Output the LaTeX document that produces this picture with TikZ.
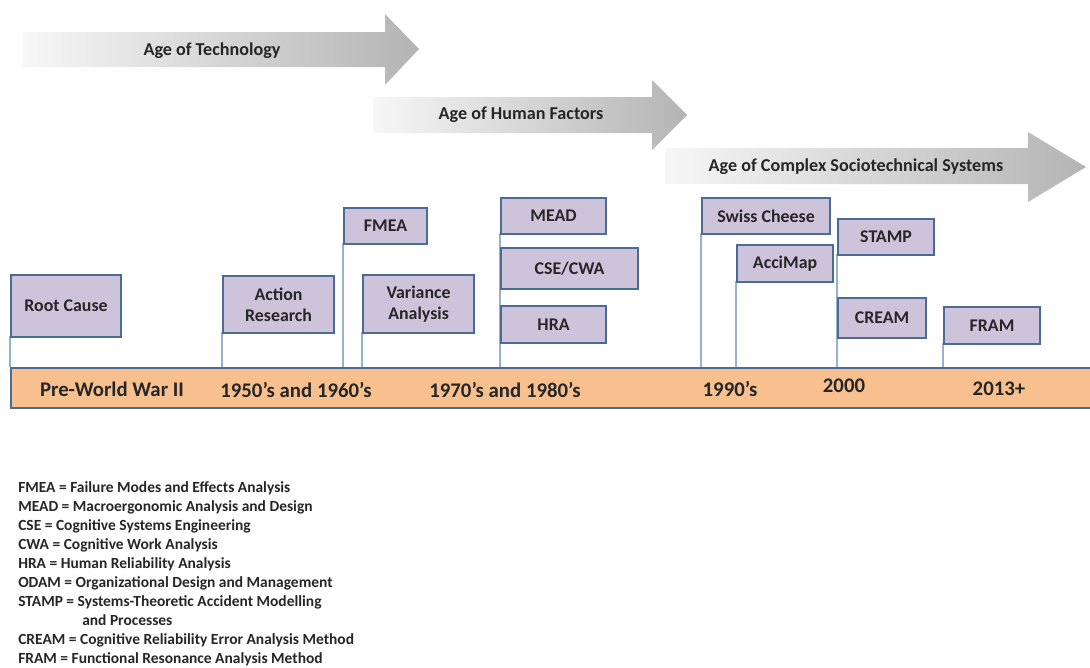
\documentclass[tikz,border=0pt]{standalone}
\usepackage{fontspec}
\setmainfont{Carlito}
\definecolor{boxfill}{HTML}{CDC3DB}
\definecolor{boxdraw}{HTML}{4A6B96}
\definecolor{linkcol}{HTML}{9AB1CE}
\definecolor{barfill}{HTML}{F8C08E}
\definecolor{txt}{HTML}{262626}
\definecolor{arrL}{HTML}{F7F7F7}
\definecolor{arrR}{HTML}{B4B4B4}
\begin{document}
\begin{tikzpicture}[x=0.75pt,y=-0.75pt,
  agearrow/.style={left color=arrL,right color=arrR,draw=none},
  agelabel/.style={font=\bfseries\fontsize{13.6}{15}\selectfont,text=txt},
  method/.style={draw=boxdraw,line width=1.6pt,fill=boxfill,anchor=north west,inner sep=0pt,
    align=center,font=\bfseries\fontsize{13.4}{16}\selectfont,text=txt},
  link/.style={draw=linkcol,line width=1.2pt},
  barbox/.style={draw=boxdraw,line width=1.6pt,fill=barfill,anchor=west,inner sep=0pt},
  barlabel/.style={font=\bfseries\fontsize{15.6}{18}\selectfont,text=txt},
  legend/.style={anchor=north west,align=left,inner sep=0pt,font=\bfseries\fontsize{11.6}{14.25}\selectfont,text=txt}]
\useasboundingbox (0,0) rectangle (1090,668);
\clip (0,0) rectangle (1090,668);
% age arrows
\path[agearrow] (23,32) -- (385,32) -- (385,14) -- (419,49) -- (385,85) -- (385,67) -- (23,67) -- cycle;
\node[agelabel] (age1) at (212,51) {Age of Technology};
\path[agearrow] (373,97) -- (652,97) -- (652,80) -- (687,115) -- (652,150) -- (652,133) -- (373,133) -- cycle;
\node[agelabel] (age2) at (521,115) {Age of Human Factors};
\path[agearrow] (665,148) -- (1028,148) -- (1028,132) -- (1086,167) -- (1028,202) -- (1028,184) -- (665,184) -- cycle;
\node[agelabel] (age3) at (856,167) {Age of Complex Sociotechnical Systems};
% timeline bar
\node[barbox,minimum width=1100*0.75pt,minimum height=40*0.75pt] (bar) at (10,388) {};
\node[barlabel] (t1) at (112,389) {Pre-World War II};
\node[barlabel] (t2) at (296,390) {1950’s and 1960’s};
\node[barlabel] (t3) at (505,390) {1970’s and 1980’s};
\node[barlabel] (t4) at (730,389) {1990’s};
\node[barlabel] (t5) at (844,386) {2000};
\node[barlabel] (t6) at (999,389) {2013+};
% links
\draw[link] (10,336) coordinate (rcL) -- (rcL |- bar.north);
\draw[link] (222,332) coordinate (arL) -- (arL |- bar.north);
\draw[link] (343,243) coordinate (fmL) -- (fmL |- bar.north);
\draw[link] (362,332) coordinate (vaL) -- (vaL |- bar.north);
\draw[link] (500,233) coordinate (meL) -- (meL |- bar.north);
\draw[link] (701,233) coordinate (scL) -- (scL |- bar.north);
\draw[link] (736,281) coordinate (amL) -- (amL |- bar.north);
\draw[link] (837,254) coordinate (stL) -- (stL |- bar.north);
\draw[link] (943,343) coordinate (frL) -- (frL |- bar.north);
% method boxes
\node[method,minimum width=110*0.75pt,minimum height=62*0.75pt] (root) at (10,274) {Root Cause};
\node[method,minimum width=111*0.75pt,minimum height=57*0.75pt] (action) at (222,275) {Action\\Research};
\node[method,minimum width=83*0.75pt,minimum height=36*0.75pt] (fmea) at (343,207) {FMEA};
\node[method,minimum width=111*0.75pt,minimum height=58*0.75pt] (variance) at (362,274) {Variance\\Analysis};
\node[method,minimum width=105*0.75pt,minimum height=36*0.75pt] (mead) at (500,197) {MEAD};
\node[method,minimum width=137*0.75pt,minimum height=41*0.75pt] (csecwa) at (500,247) {CSE/CWA};
\node[method,minimum width=105*0.75pt,minimum height=37*0.75pt] (hra) at (500,305) {HRA};
\node[method,minimum width=128*0.75pt,minimum height=36*0.75pt] (swiss) at (701,197) {Swiss Cheese};
\node[method,minimum width=96*0.75pt,minimum height=37*0.75pt] (accimap) at (736,244) {AcciMap};
\node[method,minimum width=96*0.75pt,minimum height=36*0.75pt] (stamp) at (837,218) {STAMP};
\node[method,minimum width=88*0.75pt,minimum height=40*0.75pt] (cream) at (837,297) {CREAM};
\node[method,minimum width=96*0.75pt,minimum height=37*0.75pt] (fram) at (943,306) {FRAM};
% legend
\node[legend] (leg) at (18,481) {FMEA = Failure Modes and Effects Analysis\\
MEAD = Macroergonomic Analysis and Design\\
CSE = Cognitive Systems Engineering\\
CWA = Cognitive Work Analysis\\
HRA = Human Reliability Analysis\\
ODAM = Organizational Design and Management\\
STAMP = Systems-Theoretic Accident Modelling\\
\hspace*{48pt}and Processes\\
CREAM = Cognitive Reliability Error Analysis Method\\
FRAM = Functional Resonance Analysis Method};
\end{tikzpicture}
\end{document}
